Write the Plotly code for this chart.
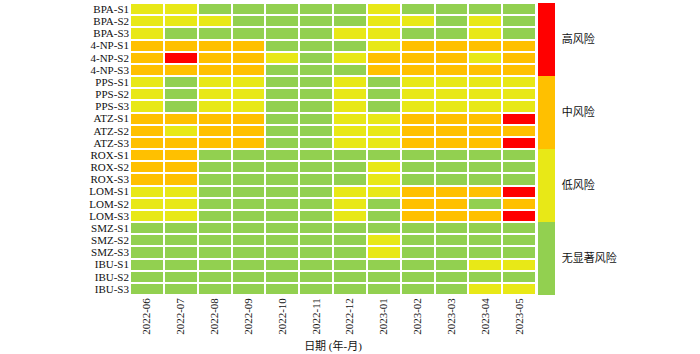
import plotly.graph_objects as go

months = ["2022-06","2022-07","2022-08","2022-09","2022-10","2022-11",
          "2022-12","2023-01","2023-02","2023-03","2023-04","2023-05"]
sites = ["BPA-S1","BPA-S2","BPA-S3","4-NP-S1","4-NP-S2","4-NP-S3",
         "PPS-S1","PPS-S2","PPS-S3","ATZ-S1","ATZ-S2","ATZ-S3",
         "ROX-S1","ROX-S2","ROX-S3","LOM-S1","LOM-S2","LOM-S3",
         "SMZ-S1","SMZ-S2","SMZ-S3","IBU-S1","IBU-S2","IBU-S3"]
# 0 无显著风险, 1 低风险, 2 中风险, 3 高风险
risk = [
    [1,1,0,0,0,0,0,1,0,0,0,0],
    [1,1,1,0,0,0,0,1,1,0,1,0],
    [1,0,0,0,0,0,1,1,0,0,1,0],
    [2,2,2,2,0,0,0,1,2,2,2,2],
    [2,3,2,2,1,0,1,2,2,2,1,2],
    [2,2,2,2,0,0,0,2,2,2,2,2],
    [1,0,1,1,0,0,1,0,1,1,1,1],
    [1,0,1,1,0,0,1,0,1,1,1,1],
    [1,0,1,1,0,0,1,0,1,1,1,1],
    [2,2,2,2,0,0,1,1,2,2,2,3],
    [2,1,2,2,0,0,1,1,2,2,2,2],
    [2,2,2,2,0,0,1,1,2,2,2,3],
    [2,2,0,0,0,0,0,0,0,0,0,0],
    [2,2,0,0,0,0,0,1,0,0,0,0],
    [2,2,0,0,0,0,0,1,0,0,0,0],
    [1,1,0,0,0,0,1,1,2,2,2,3],
    [1,1,0,0,0,0,1,0,2,2,0,2],
    [1,1,0,0,0,0,1,0,2,2,2,3],
    [0,0,0,0,0,0,0,0,0,0,0,0],
    [0,0,0,0,0,0,0,1,0,0,0,0],
    [0,0,0,0,0,0,0,1,0,0,0,0],
    [0,0,0,0,0,0,0,0,0,0,1,1],
    [0,0,0,0,0,0,0,0,0,0,0,0],
    [0,0,0,0,0,0,0,0,0,0,1,1],
]
levels = ["无显著风险","低风险","中风险","高风险"]
colors = ["#92D050","#E8E817","#FFC000","#FF0000"]

cs = []
for i, c in enumerate(colors):
    cs.append([i/4, c])
    cs.append([(i+1)/4, c])

fig = go.Figure(go.Heatmap(
    z=risk, x=months, y=sites, zmin=-0.5, zmax=3.5,
    colorscale=cs, xgap=2, ygap=2,
    colorbar=dict(tickvals=[0,1,2,3], ticktext=levels, thickness=17,
                  len=1, y=0.5, yanchor="middle", x=1.005, xanchor="left",
                  xpad=0, ypad=0, outlinewidth=0, ticks="outside", ticklen=5,
                  tickcolor="white",
                  tickfont=dict(family="Liberation Serif, Noto Sans CJK SC", size=11, color="#111")),
    hoverinfo="skip"))

fig.update_layout(
    width=700, height=354, margin=dict(l=130, r=164, t=3, b=59),
    plot_bgcolor="white", paper_bgcolor="white",
    font=dict(family="Liberation Serif, Noto Sans CJK SC", size=11, color="#111"),
    xaxis=dict(type="category", tickmode="array", tickvals=months, ticktext=months,
               tickangle=-90, showgrid=False, zeroline=False, ticks="",
               title=dict(text="日期 (年-月)", font=dict(size=11), standoff=8)),
    yaxis=dict(type="category", tickmode="array", tickvals=sites, ticktext=sites,
               autorange="reversed", showgrid=False, zeroline=False, ticks=""),
)
fig.write_html("out.html")
